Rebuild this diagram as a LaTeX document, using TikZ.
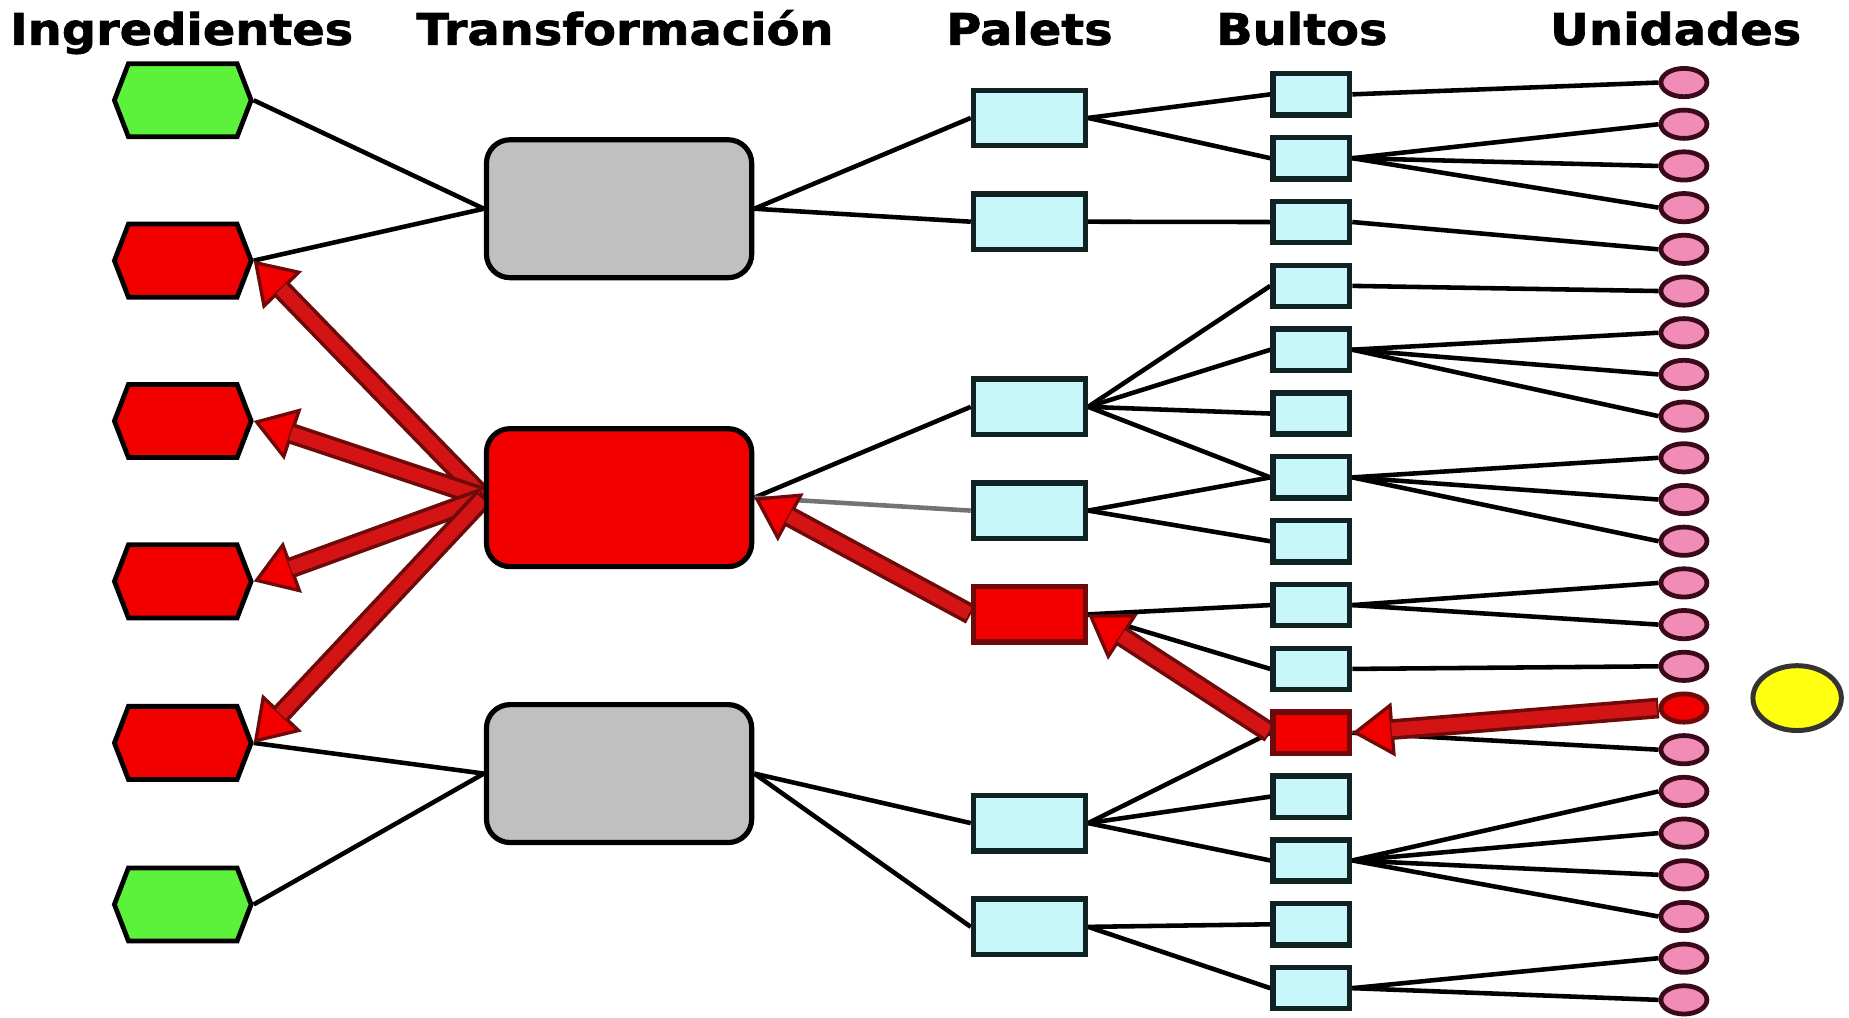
\documentclass[tikz,border=0pt]{standalone}
\usepackage{fontspec}
\newfontfamily\hdrfont[FakeStretch=1.1,FakeBold=1.6]{DejaVu Sans Bold}
\usetikzlibrary{shapes.symbols,shapes.geometric,arrows.meta,backgrounds}
\definecolor{ingGreen}{HTML}{5CF23C}
\definecolor{redFill}{HTML}{F20000}
\definecolor{darkRed}{HTML}{6E0A0A}
\definecolor{arrowRed}{HTML}{D41414}
\definecolor{transGray}{HTML}{C0C0C0}
\definecolor{paletCyan}{HTML}{C8F7FB}
\definecolor{boxEdge}{HTML}{102222}
\definecolor{unitPink}{HTML}{F08CB6}
\definecolor{unitEdge}{HTML}{3A0A1A}
\definecolor{yellowFill}{HTML}{FFFF10}
\newcommand{\redarrow}[2]{%
  \draw[darkRed, line width=10pt, -{Triangle[length=20pt, width=26pt, fill=redFill, line width=1.6pt]}] (#1) -- (#2);
  \draw[arrowRed, line width=6.5pt, shorten >=19pt, shorten <=1pt] (#1) -- (#2);}
\begin{document}
\begin{tikzpicture}[x=0.02cm, y=-0.02cm,
  hdr/.style={font=\hdrfont\fontsize{21}{25}\selectfont, anchor=base, inner sep=0pt},
  hexnode/.style={signal, signal to=east and west, signal pointer angle=138, minimum width=2.32cm, minimum height=1.24cm, inner sep=0pt, draw=black, line width=2.3pt},
  greenhex/.style={hexnode, fill=ingGreen},
  redhex/.style={hexnode, fill=redFill},
  transbox/.style={rectangle, rounded corners=0.4cm, minimum width=4.5cm, minimum height=2.34cm, draw=black, line width=2.5pt},
  graytrans/.style={transbox, fill=transGray},
  redtrans/.style={transbox, fill=redFill},
  palet/.style={rectangle, minimum width=1.9cm, minimum height=0.94cm, draw=boxEdge, fill=paletCyan, line width=2.6pt},
  redpalet/.style={palet, fill=redFill, draw=darkRed},
  bulto/.style={rectangle, minimum width=1.3cm, minimum height=0.7cm, draw=boxEdge, fill=paletCyan, line width=2.6pt},
  redbulto/.style={bulto, fill=redFill, draw=darkRed},
  unit/.style={ellipse, minimum width=0.78cm, minimum height=0.48cm, inner sep=0pt, draw=unitEdge, fill=unitPink, line width=2.3pt},
  redunit/.style={unit, fill=redFill, draw=darkRed},
  yellownode/.style={ellipse, minimum width=1.5cm, minimum height=1.1cm, draw=black!80, fill=yellowFill, line width=2.4pt},
  thin/.style={black, line width=2.2pt},
  thingray/.style={black!55, line width=2.2pt}]
\useasboundingbox (0,0) rectangle (1568,863);
% headers
\node[hdr] (hIng) at (154,38) {Ingredientes};
\node[hdr] (hTra) at (530,38) {Transformación};
\node[hdr] (hPal) at (873,38) {Palets};
\node[hdr] (hBul) at (1104,38) {Bultos};
\node[hdr] (hUni) at (1421,38) {Unidades};
% ingredients
\node[greenhex] (i1) at (155,85) {};
\node[redhex] (i2) at (155,221) {};
\node[redhex] (i3) at (155,357) {};
\node[redhex] (i4) at (155,493) {};
\node[redhex] (i5) at (155,630) {};
\node[greenhex] (i6) at (155,767) {};
% transformation
\node[graytrans] (t1) at (525,177) {};
\node[redtrans] (t2) at (525,422) {};
\node[graytrans] (t3) at (525,656) {};
% palets
\node[palet] (p1) at (873,100) {};
\node[palet] (p2) at (873,188) {};
\node[palet] (p3) at (873,345) {};
\node[palet] (p4) at (873,433) {};
\node[redpalet] (p5) at (873,521) {};
\node[palet] (p6) at (873,698) {};
\node[palet] (p7) at (873,786) {};
% bultos
\foreach \k in {1,2,3,4,5,6,7,8,9,10,12,13,14,15}
  \node[bulto] (b\k) at (1112,{80+54.14*(\k-1)}) {};
\node[redbulto] (b11) at (1112,{80+54.14*10}) {};
% unidades
\foreach \k in {0,1,2,3,4,5,6,7,8,9,10,11,12,13,14,16,17,18,19,20,21,22}
  \node[unit] (u\k) at (1428,{70+35.36*\k}) {};
\node[redunit] (u15) at (1428,{70+35.36*15}) {};
\node[yellownode] (y) at (1524,592) {};
\begin{scope}[on background layer]
\fill[white] (0,0) rectangle (1568,863);
% ingredients - transformation
\draw[thin] (i1.east) -- (t1.west);
\draw[thin] (t1.west) -- (i2.east);
\draw[thin] (t3.west) -- (i5.east);
\draw[thin] (i6.east) -- (t3.west);
% transformation - palets
\draw[thin] (t1.east) -- (p1.west);
\draw[thin] (t1.east) -- (p2.west);
\draw[thin] (t2.east) -- (p3.west);
\draw[thingray] (t2.east) -- (p4.west);
\draw[thin] (t3.east) -- (p6.west);
\draw[thin] (t3.east) -- (p7.west);
% palets - bultos
\foreach \p/\b in {p1/b1,p1/b2,p2/b3,p3/b4,p3/b5,p3/b6,p3/b7,p4/b7,p4/b8,p5/b9,p5/b10,p6/b11,p6/b12,p6/b13,p7/b14,p7/b15}
  \draw[thin] (\p.east) -- (\b.west);
% bultos - unidades
\foreach \b/\u in {b1/u0,b2/u1,b2/u2,b2/u3,b3/u4,b4/u5,b5/u6,b5/u7,b5/u8,b7/u9,b7/u10,b7/u11,b9/u12,b9/u13,b10/u14,b11/u16,b13/u17,b13/u18,b13/u19,b13/u20,b15/u21,b15/u22}
  \draw[thin] (\b.east) -- (\u.west);
% red trace
\redarrow{u15.west}{b11.east}
\redarrow{b11.west}{p5.east}
\redarrow{p5.west}{t2.east}
\redarrow{t2.west}{i2.east}
\redarrow{t2.west}{i3.east}
\redarrow{t2.west}{i4.east}
\redarrow{t2.west}{i5.east}
\end{scope}
\end{tikzpicture}
\end{document}
